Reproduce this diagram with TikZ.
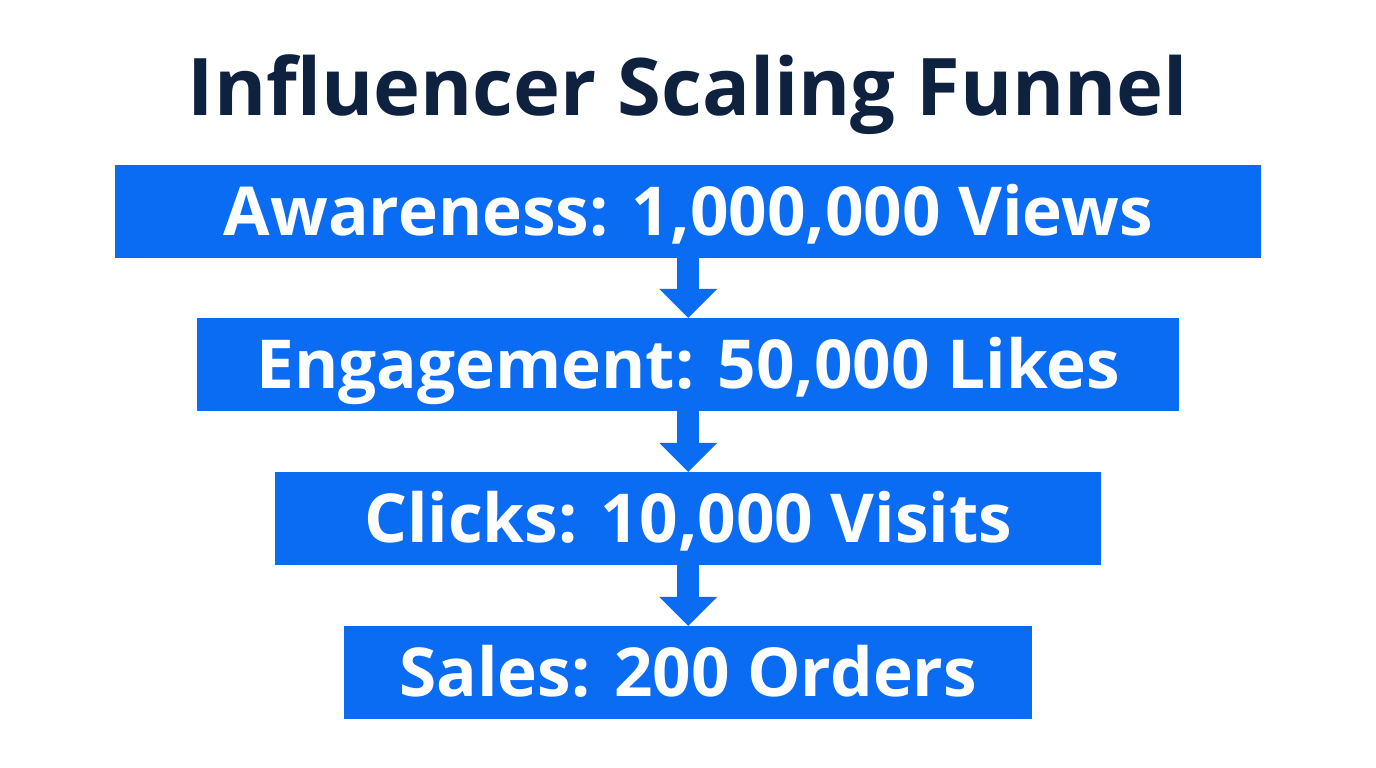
\documentclass[tikz,border=0pt]{standalone}
\usepackage{fontspec}
\setmainfont{Open Sans}
\usetikzlibrary{arrows.meta}
\definecolor{funnelblue}{RGB}{10,108,242}
\definecolor{titlenavy}{RGB}{14,34,64}
\tikzset{
  stagebox/.style={fill=funnelblue, draw=none, inner sep=0pt, anchor=north west},
  stagetext/.style={font=\fontsize{67.5}{72}\selectfont\bfseries, inner sep=0pt, text=white, anchor=base},
  flowarrow/.style={draw=funnelblue, line width=22pt, -{Triangle[width=56pt,length=29pt]}},
}
\begin{document}
\begin{tikzpicture}[x=1pt,y=1pt]
\useasboundingbox (0,0) rectangle (1376,768);
\fill[white] (0,0) rectangle (1376,768);
% title
\node[text=titlenavy, font=\fontsize{79.5}{82}\selectfont\bfseries, inner sep=0pt, anchor=base] (title) at (688,652) {Influencer Scaling Funnel};
% boxes
\node[stagebox, minimum width=1146pt, minimum height=93pt] (b1) at (115,603) {};
\node[stagebox, minimum width=982pt, minimum height=93pt] (b2) at (197,450) {};
\node[stagebox, minimum width=826pt, minimum height=93pt] (b3) at (275,296) {};
\node[stagebox, minimum width=688pt, minimum height=93pt] (b4) at (344,142) {};
% texts
\node[stagetext] (t1) at ([yshift=-24pt]b1.center) {Awareness: 1,000,000 Views};
\node[stagetext] (t2) at ([yshift=-24pt]b2.center) {Engagement: 50,000 Likes};
\node[stagetext] (t3) at ([yshift=-24pt]b3.center) {Clicks: 10,000 Visits};
\node[stagetext] (t4) at ([yshift=-24pt]b4.center) {Sales: 200 Orders};
% arrows
\draw[flowarrow] (b1.south) -- (b2.north);
\draw[flowarrow] (b2.south) -- (b3.north);
\draw[flowarrow] (b3.south) -- (b4.north);
\end{tikzpicture}
\end{document}
